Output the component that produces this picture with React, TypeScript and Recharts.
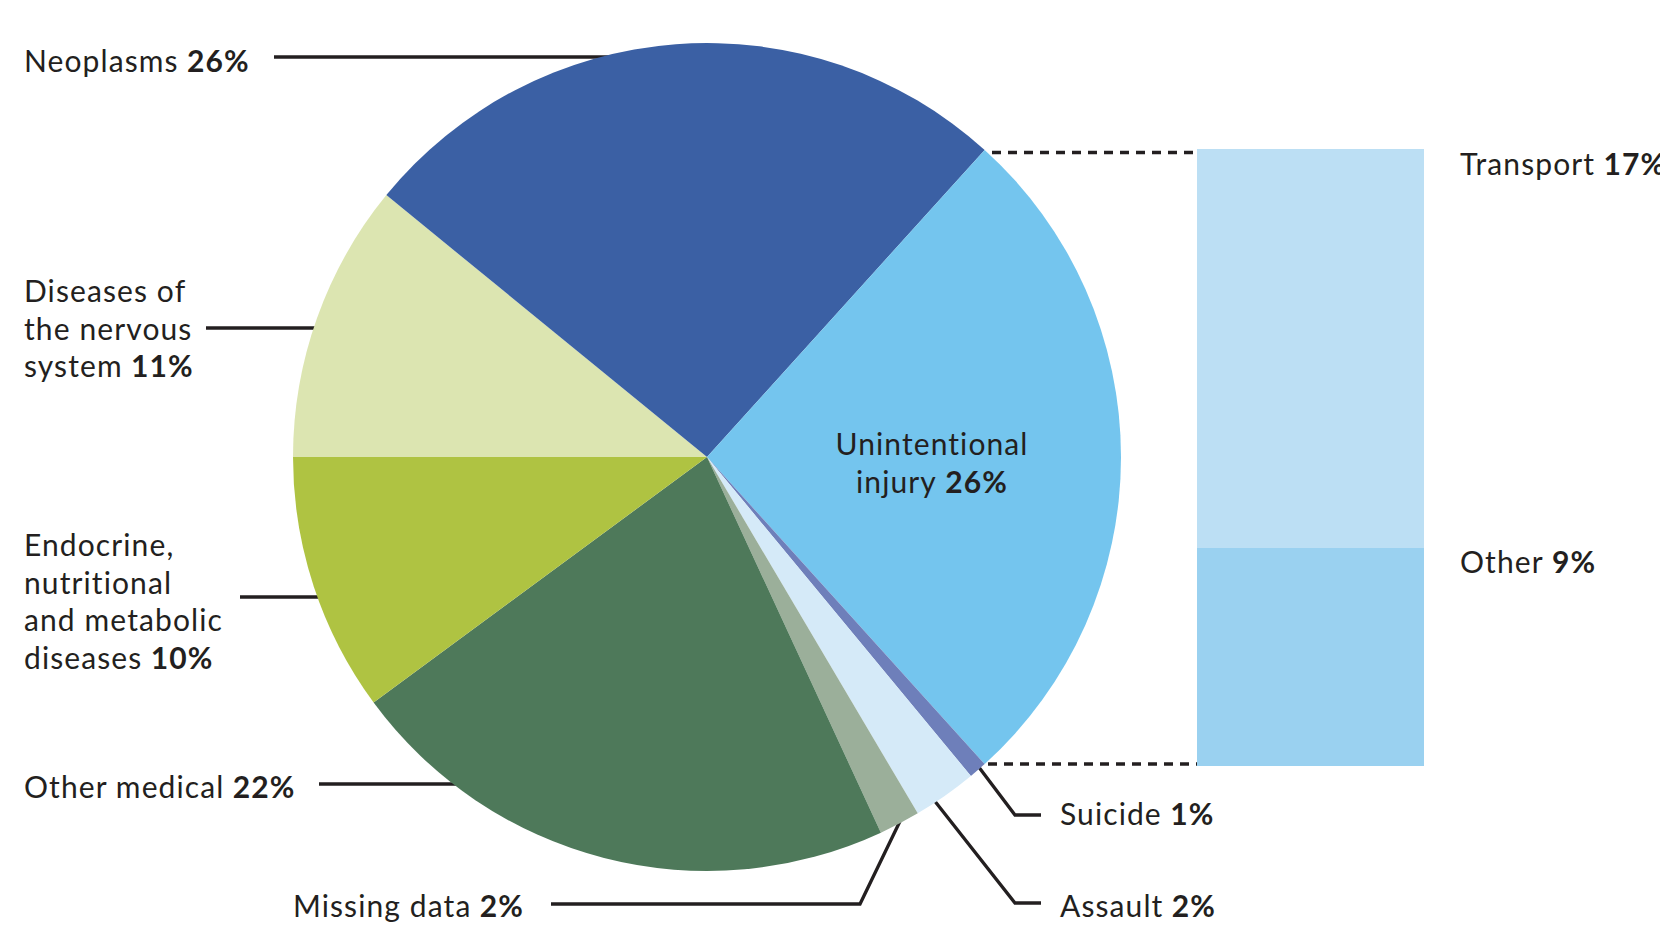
import { PieChart, Pie, Cell, BarChart, Bar, XAxis, YAxis } from 'recharts'

// slices clockwise from 9 o'clock
const causes = [
  'Diseases of the nervous system',
  'Neoplasms',
  'Unintentional injury',
  'Suicide',
  'Assault',
  'Missing data',
  'Other medical',
  'Endocrine, nutritional and metabolic diseases',
]
const shares = [10.9, 25.8, 26.6, 0.7, 2.5, 1.6, 21.8, 10.1]
const sliceColors = ['#dce5b1', '#3b60a4', '#74c5ee', '#6e7fba', '#d5eaf8', '#9baf9a', '#4e795a', '#afc342']

// breakdown of unintentional injury
const injuryParts = ['Transport', 'Other']
const injuryShares = [17.2, 9.4]
const injuryColors = ['#bcdff4', '#9ad1f0']

const W = 1660
const H = 937
const FONT = 'Lato, "Noto Sans", sans-serif'
const INK = '#231f20'

const pieData = causes.map((name, i) => ({ name, value: shares[i] }))
const barData = [{ name: 'Unintentional injury', [injuryParts[0]]: injuryShares[0], [injuryParts[1]]: injuryShares[1] }]

const layer: React.CSSProperties = { position: 'absolute', left: 0, top: 0 }

function Label({ x, y, lines, pct, anchor = 'start' }: { x: number; y: number; lines: string[]; pct: string; anchor?: 'start' | 'middle' }) {
  return (
    <text
      x={x}
      y={y}
      textAnchor={anchor}
      fontFamily={FONT}
      fontSize={30}
      letterSpacing={1.1}
      fill={INK}
      style={{ fontVariantLigatures: 'none' }}
    >
      {lines.map((l, i) => (
        <tspan key={i} x={x} dy={i === 0 ? 0 : 37.7}>
          {l}
          {i === lines.length - 1 && <tspan fontWeight="bold">{' ' + pct}</tspan>}
        </tspan>
      ))}
    </text>
  )
}

export default function App() {
  return (
    <div style={{ position: 'absolute', left: 0, top: 0, width: W, height: H, background: '#fff', overflow: 'hidden' }}>
      <svg width={W} height={H} style={layer}>
        <g stroke={INK} strokeWidth={3.3} fill="none">
          <line x1={274} y1={57} x2={640} y2={57} />
          <line x1={206} y1={328} x2={340} y2={328} />
          <line x1={240} y1={597} x2={340} y2={597} />
          <line x1={319} y1={784} x2={480} y2={784} />
          <polyline points="551,904 860,904 903,815" />
          <polyline points="1041,815 1015,815 975,762" />
          <polyline points="1041,903 1015,903 930,795" />
          <line x1={992} y1={152.5} x2={1198} y2={152.5} strokeDasharray="9 7" />
          <line x1={988} y1={764} x2={1198} y2={764} strokeDasharray="9 7" />
        </g>
      </svg>
      <div style={layer}>
        <BarChart width={W} height={H} data={barData} margin={{ top: 149, bottom: 171, left: 1197, right: 236 }} barCategoryGap={0}>
          <XAxis dataKey="name" hide />
          <YAxis hide domain={[0, injuryShares[0] + injuryShares[1]]} />
          <Bar dataKey={injuryParts[1]} stackId="inj" fill={injuryColors[1]} isAnimationActive={false} />
          <Bar dataKey={injuryParts[0]} stackId="inj" fill={injuryColors[0]} isAnimationActive={false} />
        </BarChart>
      </div>
      <div style={layer}>
        <PieChart width={W} height={H} margin={{ top: 0, right: 0, bottom: 0, left: 0 }}>
          <Pie
            data={pieData}
            dataKey="value"
            cx={707}
            cy={457}
            outerRadius={414}
            startAngle={180}
            endAngle={-180}
            stroke="none"
            isAnimationActive={false}
          >
            {pieData.map((d, i) => (
              <Cell key={d.name} fill={sliceColors[i]} stroke="none" />
            ))}
          </Pie>
        </PieChart>
      </div>
      <svg width={W} height={H} style={layer}>
        <Label x={24} y={72} lines={['Neoplasms']} pct="26%" />
        <Label x={24} y={302} lines={['Diseases of', 'the nervous', 'system']} pct="11%" />
        <Label x={24} y={556} lines={['Endocrine,', 'nutritional', 'and metabolic', 'diseases']} pct="10%" />
        <Label x={24} y={798} lines={['Other medical']} pct="22%" />
        <Label x={293} y={917} lines={['Missing data']} pct="2%" />
        <Label x={1060} y={825} lines={['Suicide']} pct="1%" />
        <Label x={1060} y={917} lines={['Assault']} pct="2%" />
        <Label x={1460} y={175} lines={['Transport']} pct="17%" />
        <Label x={1460} y={573} lines={['Other']} pct="9%" />
        <Label x={932} y={455} anchor="middle" lines={['Unintentional', 'injury']} pct="26%" />
      </svg>
    </div>
  )
}
